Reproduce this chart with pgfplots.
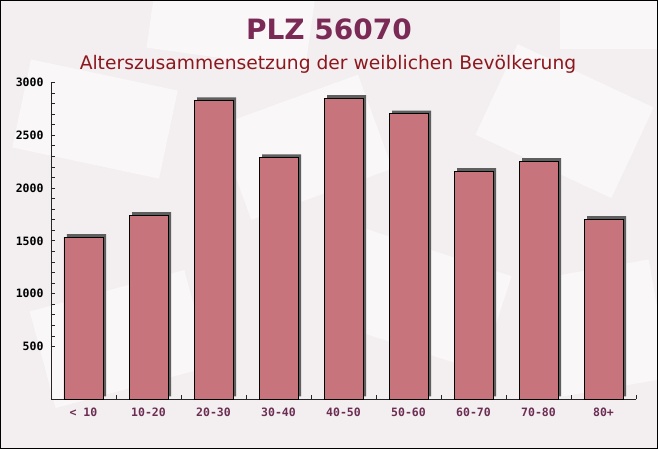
\documentclass[border=0pt]{standalone}
\usepackage{pgfplots}
\pgfplotsset{compat=1.18}
\usepackage{fontspec}
\setmainfont{DejaVu Sans}
\newfontfamily\monofont{DejaVu Sans Mono}
\definecolor{bg}{RGB}{243,239,241}
\definecolor{barfill}{RGB}{199,116,124}
\definecolor{shade}{RGB}{95,95,95}
\definecolor{titlecol}{RGB}{122,42,85}
\definecolor{subcol}{RGB}{140,24,30}
\definecolor{xlab}{RGB}{107,45,82}

\begin{document}
\begin{tikzpicture}[x=1pt,y=1pt]
\fill[bg] (0,0) rectangle (658,449);
% faint envelopes in the background
\begin{scope}
\clip (0,0) rectangle (658,449);
\begin{scope}[white, opacity=0.5]
\fill[rotate around={-12:(95,330)}] (20,285) rectangle (170,375);
\fill[rotate around={20:(300,300)}] (230,250) rectangle (380,350);
\fill[rotate around={-25:(560,330)}] (490,280) rectangle (640,380);
\fill[rotate around={15:(120,110)}] (40,60) rectangle (200,160);
\fill[rotate around={-18:(420,150)}] (340,100) rectangle (500,200);
\fill[rotate around={10:(600,120)}] (540,60) rectangle (660,180);
\fill[rotate around={-8:(230,420)}] (150,390) rectangle (310,460);
\fill (560,400) rectangle (660,460);
\end{scope}
\end{scope}
\draw[black, line width=1.2pt] (0.6,0.6) rectangle (657.4,448.4);
\node[font=\bfseries\fontsize{28}{30}\selectfont, text=titlecol] at (329,420) {PLZ 56070};
\node[font=\fontsize{18.7}{21}\selectfont, text=subcol] at (328,384.5) {Alterszusammensetzung der weiblichen Bevölkerung};
\begin{axis}[
  at={(51pt,49.6pt)}, anchor=south west,
  scale only axis, width=585pt, height=317pt,
  xmin=-0.5, xmax=8.5, ymin=0, ymax=3000,
  axis x line=bottom, axis y line=left,
  axis line style={-, black!85, line width=0.9pt},
  xtick={0,...,8},
  xticklabels={< 10,10-20,20-30,30-40,40-50,50-60,60-70,70-80,80+},
  minor xtick={0.5,1.5,...,8.5},
  ytick={500,1000,...,3000},
  minor y tick num=4,
  tick align=inside,
  x tick style={draw=none},
  minor x tick style={draw=black!85, line width=0.8pt},
  y tick style={draw=black!85, line width=0.8pt},
  major tick length=4pt, minor tick length=4pt,
  /pgf/number format/assume math mode=true,
  /pgf/number format/1000 sep={},
  yticklabel style={font=\monofont\bfseries\fontsize{11.5}{13}\selectfont, text=black, xshift=-4pt},
  xticklabel style={font=\monofont\bfseries\fontsize{11.5}{13}\selectfont, text=xlab, yshift=-5pt},
]
\addplot[ybar, bar width=0.6, bar shift=0pt, fill=shade, draw=none, xshift=3pt, yshift=3pt]
  coordinates {(0,1535)(1,1745)(2,2830)(3,2290)(4,2850)(5,2705)(6,2160)(7,2255)(8,1705)};
\addplot[ybar, bar width=0.6, bar shift=0pt, fill=barfill, draw=black, line width=0.8pt]
  coordinates {(0,1535)(1,1745)(2,2830)(3,2290)(4,2850)(5,2705)(6,2160)(7,2255)(8,1705)};
\end{axis}
\pgfresetboundingbox
\path[use as bounding box] (0,0) rectangle (658,449);
\end{tikzpicture}
\end{document}
